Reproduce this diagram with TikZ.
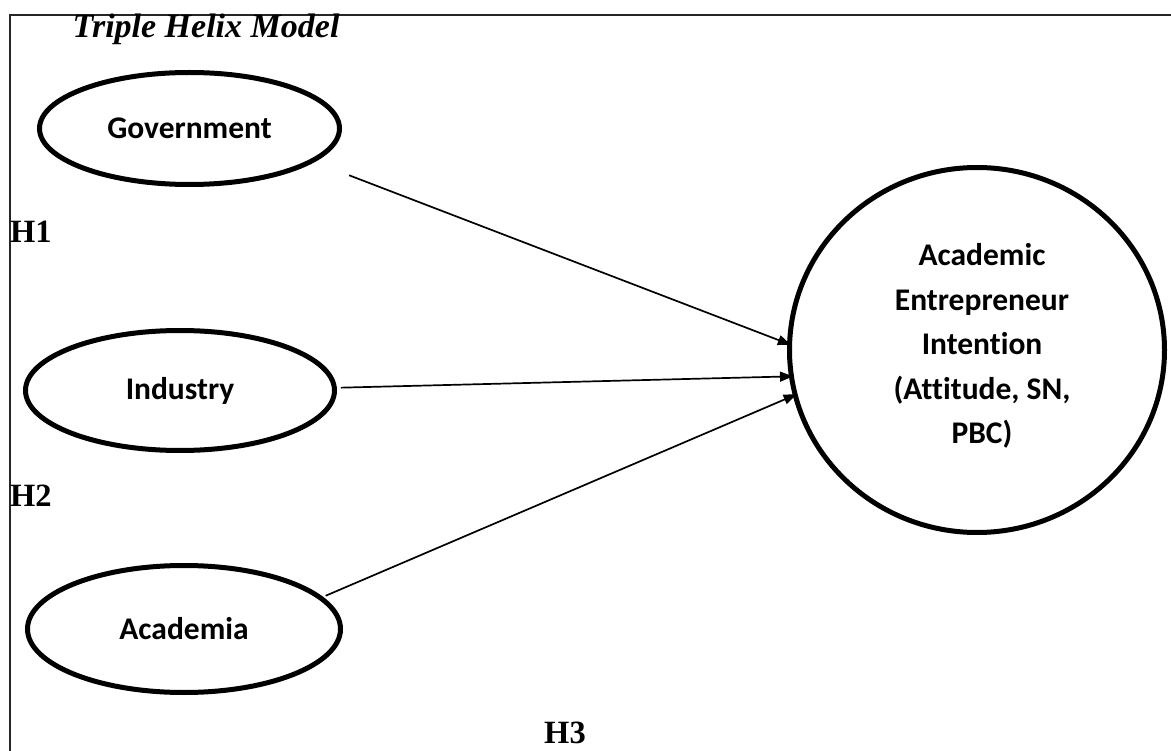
\documentclass[tikz,border=0pt]{standalone}
\usepackage{fontspec}
\setmainfont{Carlito}[Ligatures=NoCommon, RawFeature={-liga;-clig;-dlig}]
\newfontfamily\tnr{Liberation Serif}
\usetikzlibrary{shapes.geometric,arrows.meta}
\tikzset{
  oval/.style={ellipse, draw, line width=5pt, inner sep=0pt, font=\bfseries\fontsize{31.5}{44.5}\selectfont},
  conn/.style={line width=1.7pt, -{Triangle[length=13pt,width=10pt]}},
  hlab/.style={font=\tnr\bfseries\fontsize{32.5}{36}\selectfont, inner sep=0pt},
}
\begin{document}
\begin{tikzpicture}[x=1pt,y=-1pt]
\useasboundingbox (0,0) rectangle (1171,751);
\fill[white] (0,0) rectangle (1171,751);
\draw[line width=1.5pt, black!85] (10,751) -- (10,15) -- (1171,15);
\node[hlab, font=\tnr\bfseries\itshape\fontsize{34}{38}\selectfont, anchor=base] (title) at (206,38) {Triple Helix Model};
\node[oval, minimum width=300pt, minimum height=112pt] (gov) at (189.5,128.5) {Government};
\node[oval, minimum width=309pt, minimum height=120pt] (ind) at (180,390.5) {Industry};
\node[oval, minimum width=313pt, minimum height=127pt] (aca) at (184,629) {Academia};
\node[oval, minimum width=375pt, minimum height=365pt] (aei) at (977,350) {};
\node[font=\bfseries\fontsize{31.5}{44.5}\selectfont, align=center, inner sep=0pt] (aeitext) at (982,346) {Academic\\Entrepreneur\\Intention\\(Attitude, SN,\\PBC)};
\node[hlab, anchor=base west] (h1) at (10,243) {H1};
\node[hlab, anchor=base west] (h2) at (10,506) {H2};
\node[hlab, anchor=base] (h3) at (565,743) {H3};
\draw[conn, shorten <=37pt, shorten >=-4pt] (gov.-15) -- (aei.178);
\draw[conn, shorten <=4pt, shorten >=-4pt] (ind.1) -- (aei.188.5);
\draw[conn, shorten <=3pt, shorten >=-4pt] (aca.13) -- (aei.194.3);
\end{tikzpicture}
\end{document}
